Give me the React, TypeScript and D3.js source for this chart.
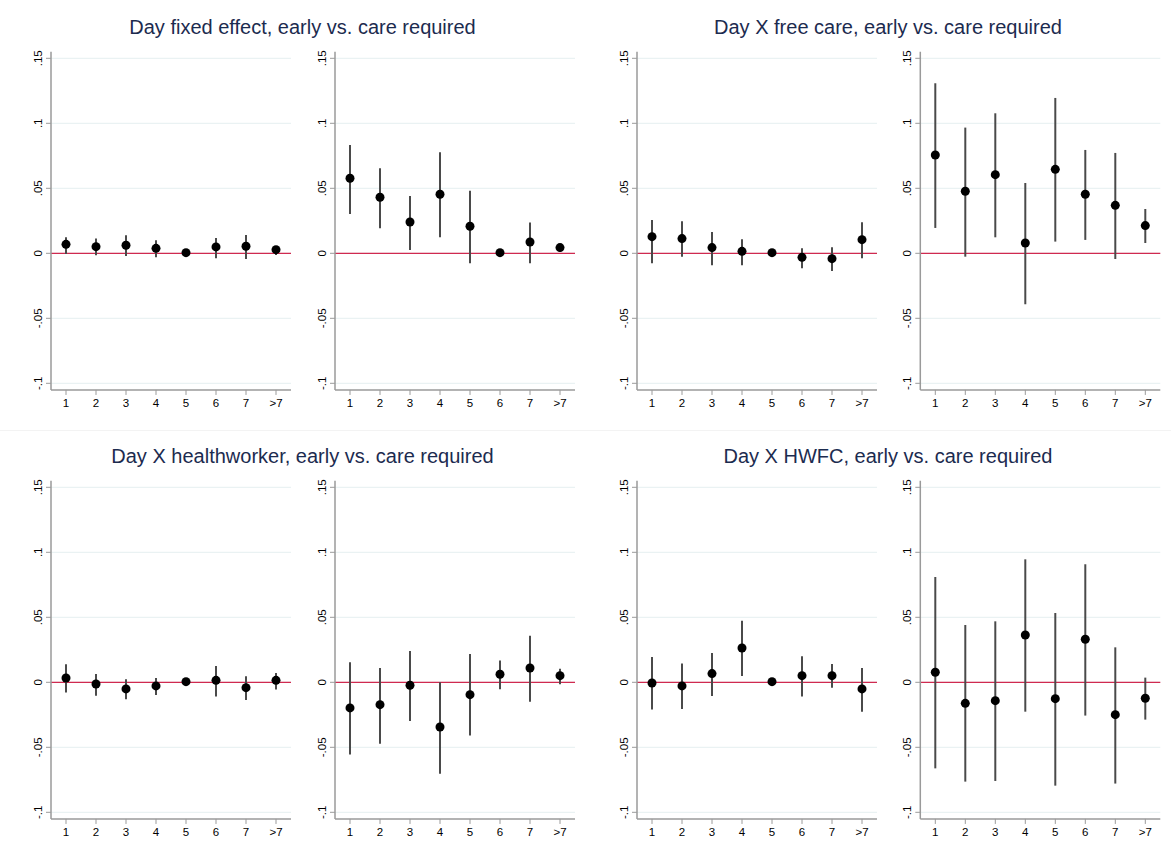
import React from "react";
import * as d3 from "d3";

const categories = ["1", "2", "3", "4", "5", "6", "7", ">7"];
const yTicks = [-0.1, -0.05, 0, 0.05, 0.1, 0.15];
const yTickLabels = ["-.1", "-.05", "0", ".05", ".1", ".15"];

const titles = [
  "Day fixed effect, early vs. care required",
  "Day X free care, early vs. care required",
  "Day X healthworker, early vs. care required",
  "Day X HWFC, early vs. care required",
];

// Panel 1: Day fixed effect (left)
const fixedLeftEst = [0.0069, 0.0051, 0.0062, 0.0038, 0.0005, 0.0049, 0.0054, 0.0028];
const fixedLeftHi = [0.0123, 0.0113, 0.0138, 0.01, 0.0005, 0.0118, 0.0141, 0.0051];
const fixedLeftLo = [-0.0005, -0.0015, -0.002, -0.003, 0.0005, -0.0038, -0.0044, -0.0013];
// Panel 2: Day fixed effect (right)
const fixedRightEst = [0.0577, 0.0431, 0.0241, 0.0454, 0.0208, 0.0005, 0.0087, 0.0044];
const fixedRightHi = [0.0833, 0.0654, 0.0441, 0.0777, 0.0482, 0.0005, 0.0236, 0.0062];
const fixedRightLo = [0.0303, 0.0192, 0.0026, 0.0123, -0.0077, 0.0005, -0.0077, 0.001];
// Panel 3: Day X free care (left)
const freeLeftEst = [0.0128, 0.0113, 0.0044, 0.0015, 0.0005, -0.0031, -0.0041, 0.0105];
const freeLeftHi = [0.0256, 0.0246, 0.0164, 0.0108, 0.0005, 0.0038, 0.0046, 0.0238];
const freeLeftLo = [-0.0077, -0.0026, -0.0092, -0.0092, 0.0005, -0.0115, -0.0136, -0.0038];
// Panel 4: Day X free care (right)
const freeRightEst = [0.0756, 0.0477, 0.0605, 0.0079, 0.0646, 0.0454, 0.0369, 0.0213];
const freeRightHi = [0.1308, 0.0967, 0.1077, 0.0541, 0.1195, 0.0795, 0.0772, 0.0341];
const freeRightLo = [0.0195, -0.0026, 0.0123, -0.0392, 0.009, 0.0103, -0.0044, 0.0079];
// Panel 5: Day X healthworker (left)
const hwLeftEst = [0.0033, -0.0013, -0.0051, -0.0028, 0.0005, 0.0015, -0.0041, 0.0015];
const hwLeftHi = [0.0138, 0.0064, 0.0023, 0.0033, 0.0005, 0.0126, 0.0046, 0.0072];
const hwLeftLo = [-0.0079, -0.0103, -0.0131, -0.0097, 0.0005, -0.011, -0.0136, -0.0056];
// Panel 6: Day X healthworker (right)
const hwRightEst = [-0.0197, -0.0172, -0.0023, -0.0344, -0.0095, 0.0062, 0.011, 0.0051];
const hwRightHi = [0.0154, 0.011, 0.0241, 0.0, 0.0218, 0.0167, 0.0359, 0.0105];
const hwRightLo = [-0.0556, -0.0472, -0.0297, -0.0703, -0.041, -0.0054, -0.0149, -0.0015];
// Panel 7: Day X HWFC (left)
const hwfcLeftEst = [-0.0005, -0.0028, 0.0067, 0.0264, 0.0005, 0.0051, 0.0051, -0.0051];
const hwfcLeftHi = [0.0195, 0.0144, 0.0226, 0.0474, 0.0005, 0.02, 0.0141, 0.011];
const hwfcLeftLo = [-0.021, -0.0205, -0.0105, 0.0049, 0.0005, -0.011, -0.0041, -0.0226];
// Panel 8: Day X HWFC (right)
const hwfcRightEst = [0.0077, -0.0162, -0.0141, 0.0364, -0.0126, 0.0331, -0.0249, -0.0123];
const hwfcRightHi = [0.081, 0.0441, 0.0469, 0.0946, 0.0533, 0.0908, 0.0269, 0.0036];
const hwfcRightLo = [-0.0662, -0.0764, -0.0759, -0.0226, -0.0795, -0.0256, -0.0779, -0.0287];

const panelData = [
  [fixedLeftEst, fixedLeftLo, fixedLeftHi],
  [fixedRightEst, fixedRightLo, fixedRightHi],
  [freeLeftEst, freeLeftLo, freeLeftHi],
  [freeRightEst, freeRightLo, freeRightHi],
  [hwLeftEst, hwLeftLo, hwLeftHi],
  [hwRightEst, hwRightLo, hwRightHi],
  [hwfcLeftEst, hwfcLeftLo, hwfcLeftHi],
  [hwfcRightEst, hwfcRightLo, hwfcRightHi],
];

const W = 1171;
const H = 856;
const axisXs = [51, 335, 637, 920.3];
const rowZero = [253.3, 682.3];
const titleCenters = [302.5, 888];
const titleBaselines = [34, 463];
const PX_PER_UNIT = 1300;
const PLOT_W = 240;

const FONT = "'Liberation Sans', Arial, Helvetica, sans-serif";

function Panel({ idx }: { idx: number }) {
  const row = Math.floor(idx / 4);
  const col = idx % 4;
  const ax = axisXs[col];
  const zero = rowZero[row];
  const y = d3
    .scaleLinear()
    .domain([-0.1051, 0.1551])
    .range([zero + 0.1051 * PX_PER_UNIT, zero - 0.1551 * PX_PER_UNIT]);
  const x = d3.scaleLinear().domain([0.5, 8.5]).range([ax, ax + PLOT_W]);
  const [est, lo, hi] = panelData[idx];
  const yTop = y(0.1551);
  const yBot = y(-0.1051);
  return (
    <g>
      {yTicks.map((t, i) => (
        <line
          key={"g" + i}
          x1={ax}
          x2={ax + PLOT_W}
          y1={y(t)}
          y2={y(t)}
          stroke="#eaf2f3"
          strokeWidth={1.2}
        />
      ))}
      <line x1={ax} x2={ax + PLOT_W} y1={y(0)} y2={y(0)} stroke="#d02a50" strokeWidth={1.3} />
      {categories.map((c, i) => (
        <g key={"e" + i}>
          {hi[i] !== lo[i] && (
            <line x1={x(i + 1)} x2={x(i + 1)} y1={y(hi[i])} y2={y(lo[i])} stroke="#4a4a4a" strokeWidth={2} />
          )}
          <circle cx={x(i + 1)} cy={y(est[i])} r={4.5} fill="#000" />
        </g>
      ))}
      <line x1={ax} x2={ax} y1={yTop} y2={yBot} stroke="#9a9a9a" strokeWidth={1.5} />
      <line x1={ax} x2={ax + PLOT_W} y1={yBot} y2={yBot} stroke="#9a9a9a" strokeWidth={1.5} />
      {yTicks.map((t, i) => (
        <g key={"yt" + i}>
          <line x1={ax - 5} x2={ax} y1={y(t)} y2={y(t)} stroke="#9a9a9a" strokeWidth={1} />
          <text
            transform={`translate(${ax - 9},${y(t)}) rotate(-90)`}
            textAnchor="middle"
            fontSize={11.5}
            fontFamily={FONT}
            fill="#000"
          >
            {yTickLabels[i]}
          </text>
        </g>
      ))}
      {categories.map((c, i) => (
        <g key={"xt" + i}>
          <line x1={x(i + 1)} x2={x(i + 1)} y1={yBot} y2={yBot + 5} stroke="#9a9a9a" strokeWidth={1} />
          <text
            x={x(i + 1)}
            y={yBot + 17}
            textAnchor="middle"
            fontSize={11.5}
            fontFamily={FONT}
            fill="#000"
          >
            {c}
          </text>
        </g>
      ))}
    </g>
  );
}

export default function App() {
  return (
    <svg
      width={W}
      height={H}
      style={{ position: "absolute", left: 0, top: 0, background: "#fff" }}
    >
      <rect x={0} y={0} width={W} height={H} fill="#fff" />
      <line x1={0} x2={W} y1={430.5} y2={430.5} stroke="#f3f3f3" strokeWidth={1} />
      {titles.map((t, i) => (
        <text
          key={"t" + i}
          x={titleCenters[i % 2]}
          y={titleBaselines[Math.floor(i / 2)]}
          textAnchor="middle"
          fontSize={20}
          fontFamily={FONT}
          fill="#1c2b4f"
        >
          {t}
        </text>
      ))}
      {d3.range(8).map((i) => (
        <Panel key={i} idx={i} />
      ))}
    </svg>
  );
}
